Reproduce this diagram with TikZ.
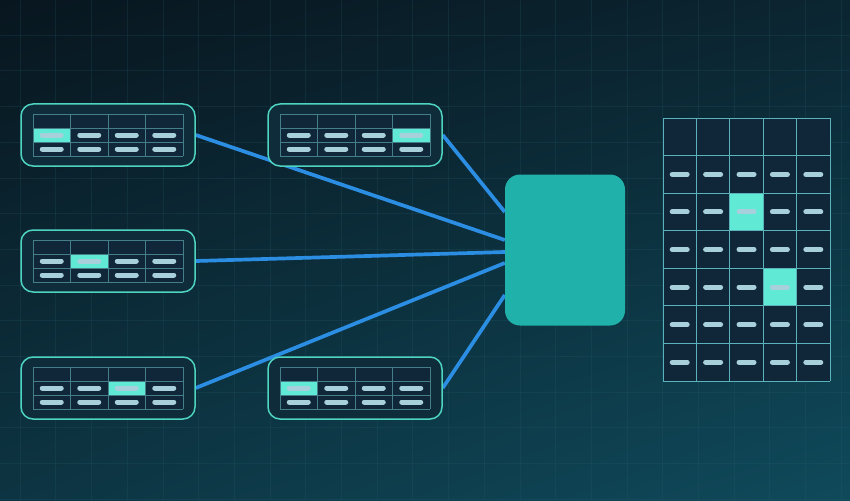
\documentclass[tikz,border=0pt]{standalone}
\usepackage{xcolor}
\usepackage{tikz}
\usetikzlibrary{calc,backgrounds,shadings}
\definecolor{BgTopLeft}{HTML}{08161F}
\definecolor{BgTopRight}{HTML}{0B2531}
\definecolor{BgLowLeft}{HTML}{0D3442}
\definecolor{BgLowRight}{HTML}{0F4A5B}
\definecolor{GridFaint}{HTML}{2A6170}
\definecolor{CardFill}{HTML}{0E2C3A}
\definecolor{CardEdge}{HTML}{4FD4C1}
\definecolor{CellFill}{HTML}{10273A}
\definecolor{CellEdge}{HTML}{437E89}
\definecolor{BoardEdge}{HTML}{5AB3BC}
\definecolor{CellMint}{HTML}{60EAD6}
\definecolor{PillGrey}{HTML}{A8D0DA}
\definecolor{HubTeal}{HTML}{20B2AA}
\definecolor{LinkBlue}{HTML}{2C8EE3}

\begin{document}
\begin{tikzpicture}[x=1pt,y=-1pt,
  card/.style={draw=CardEdge,fill=CardFill,line width=1.5pt,rounded corners=12pt,minimum width=174pt,minimum height=62pt,inner sep=0pt},
  hub/.style={fill=HubTeal,rounded corners=15pt,minimum width=120pt,minimum height=151pt,inner sep=0pt},
  cellline/.style={CellEdge,line width=0.8pt},
  pill/.style={PillGrey,line width=5pt,line cap=round},
  link/.style={LinkBlue,line width=3.7pt}]
  \useasboundingbox (0,0) rectangle (850,500);

  % source tables
  \foreach \name/\x/\y/\hl in {tabA/21/104/0,tabB/268/104/3,tabC/21/230/1,tabD/21/357/2,tabE/268/357/0}{
    \node[card] (\name) at ({\x+87},{\y+31}) {};
    \fill[CellFill] ({\x+12},{\y+10}) rectangle ({\x+162},{\y+52});
    \fill[CellMint] ({\x+12+37.5*\hl},{\y+24}) rectangle ({\x+49.5+37.5*\hl},{\y+38});
    \foreach \c in {0,...,4}
      \draw[cellline] ({\x+12+37.5*\c},{\y+10}) -- ({\x+12+37.5*\c},{\y+52});
    \foreach \r in {0,...,3}
      \draw[cellline] ({\x+12},{\y+10+14*\r}) -- ({\x+162},{\y+10+14*\r});
    \foreach \c in {0,...,3}
      \foreach \r in {1,2}
        \draw[pill] ({\x+21.25+37.5*\c},{\y+17+14*\r}) -- ++(19,0);
  }

  % merge box
  \node[hub] (hub) at (565,250) {};

  % result board
  \node[fill=CellFill,minimum width=167pt,minimum height=263pt,inner sep=0pt] (board) at (746.5,249.5) {};
  \fill[CellMint] (729.8,193.1) rectangle (763.2,230.7);
  \fill[CellMint] (763.2,268.3) rectangle (796.6,305.8);
  \foreach \c in {0,...,5}
    \draw[BoardEdge,line width=0.8pt] ({663+33.4*\c},118) -- ({663+33.4*\c},381);
  \foreach \r in {0,...,7}
    \draw[BoardEdge,line width=0.8pt] (663,{118+37.57*\r}) -- (830,{118+37.57*\r});
  \foreach \c in {0,...,4}
    \foreach \r in {1,...,6}
      \draw[pill] ({672.2+33.4*\c},{136.8+37.57*\r}) -- ++(15,0);

  \begin{scope}[on background layer]
    \shade[upper left=BgTopLeft,upper right=BgTopRight,lower left=BgLowLeft,lower right=BgLowRight] (0,0) rectangle (850,500);
    \foreach \g in {0,...,23}
      \draw[GridFaint,opacity=0.2,line width=0.6pt] ({20+35.7*\g},0) -- ({20+35.7*\g},500);
    \foreach \g in {0,...,13}
      \draw[GridFaint,opacity=0.2,line width=0.6pt] (0,{35+35.7*\g}) -- (850,{35+35.7*\g});
    % links into the merge box
    \draw[link] (tabA.east) -- ([yshift=10pt]hub.west);
    \draw[link] (tabB.east) -- ([yshift=38pt]hub.west);
    \draw[link] (tabC.east) -- ([yshift=-2pt]hub.west);
    \draw[link] (tabD.east) -- ([yshift=-13pt]hub.west);
    \draw[link] (tabE.east) -- ([yshift=-45pt]hub.west);
  \end{scope}
\end{tikzpicture}
\end{document}
